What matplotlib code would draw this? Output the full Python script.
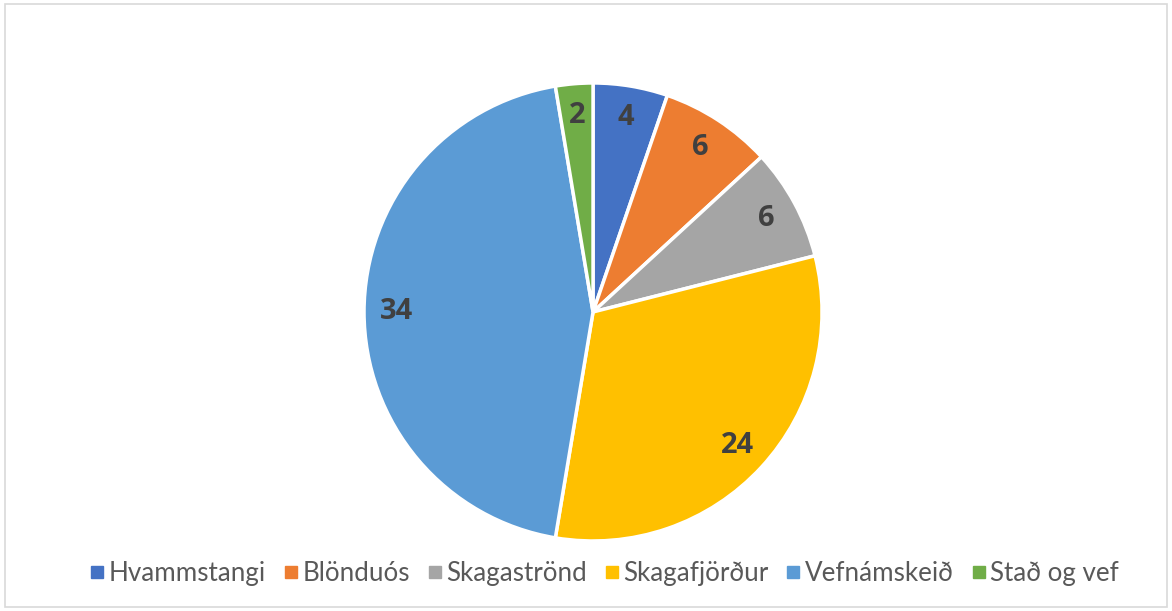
import matplotlib
matplotlib.use("Agg")
import matplotlib.pyplot as plt
from matplotlib.lines import Line2D
from matplotlib.patches import Rectangle

# data
places = ['Hvammstangi', 'Blönduós', 'Skagaströnd', 'Skagafjörður', 'Vefnámskeið', 'Stað og vef']
counts = [4, 6, 6, 24, 34, 2]
colours = ['#4472C4', '#ED7D31', '#A5A5A5', '#FFC000', '#5B9BD5', '#70AD47']

plt.rcParams['font.family'] = ['Lato', 'DejaVu Sans']

fig = plt.figure(figsize=(11.72, 6.11), dpi=100)

# light grey frame round the chart
fig.patches.append(Rectangle((0.0045, 0.007), 0.991, 0.987, transform=fig.transFigure,
                             fill=False, edgecolor='#D9D9D9', linewidth=1.2))

ax = fig.add_axes([0.3106, 0.1146, 0.3908, 0.7496])
wedges, texts = ax.pie(counts, colors=colours, startangle=90, counterclock=False,
                       labels=[str(c) for c in counts], labeldistance=0.86,
                       wedgeprops=dict(edgecolor='white', linewidth=2.5))
for t in texts:
    t.set_ha('center')
    t.set_va('center')
    t.set_fontfamily(['Open Sans', 'DejaVu Sans'])
    t.set_fontsize(21)
    t.set_fontweight('bold')
    t.set_color('#404040')
ax.set_aspect('equal')
ax.set_xlim(-1.0, 1.0)
ax.set_ylim(-1.0, 1.0)

handles = [Line2D([], [], marker='s', linestyle='none', markersize=8,
                  markerfacecolor=c, markeredgecolor=c) for c in colours]
fig.legend(handles, places, loc='center', bbox_to_anchor=(0.515, 0.062), ncol=6,
           frameon=False, fontsize=18.7, handletextpad=0.1, columnspacing=0.6,
           labelcolor='#595959', handlelength=0.7)

fig.savefig('out.png', dpi=100)
